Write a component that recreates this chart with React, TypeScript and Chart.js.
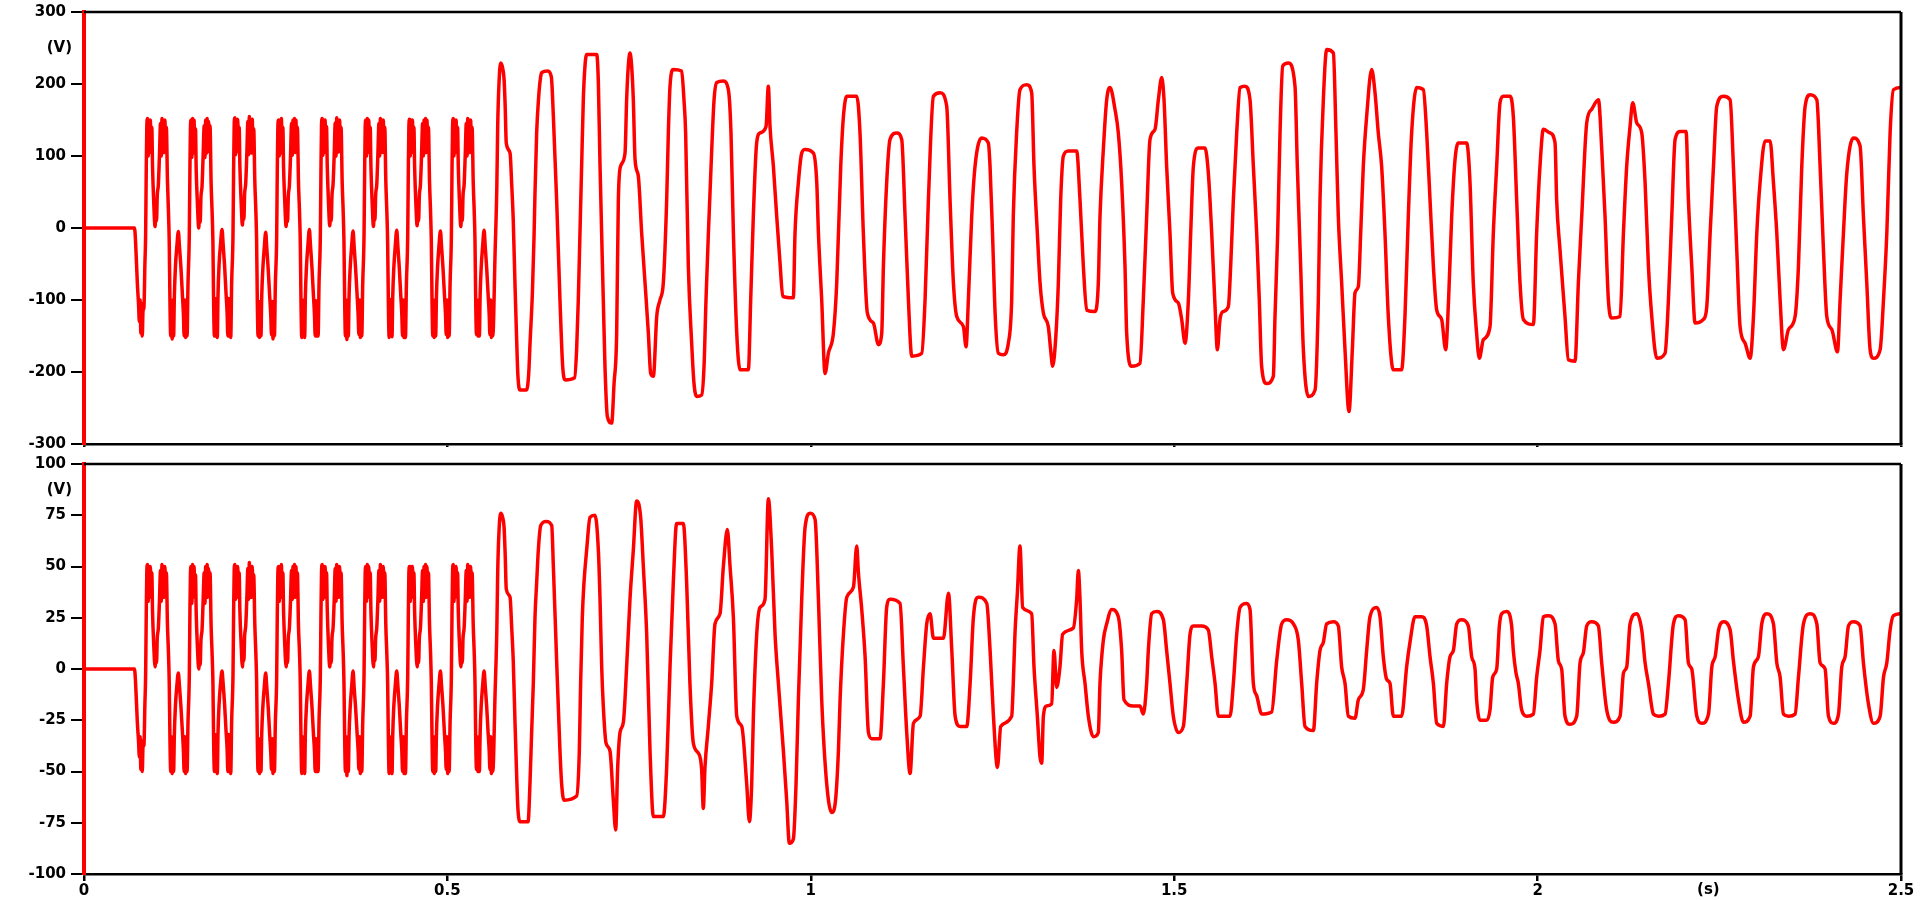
import React, { useEffect, useRef } from "react";
import { Chart, registerables } from "chart.js";
Chart.register(...registerables);

const FONT = '"DejaVu Sans", Verdana, sans-serif';

const X_TICKS = [0, 0.5, 1, 1.5, 2, 2.5];
const X_TICK_LABELS = ["0", "0.5", "1", "1.5", "2", "2.5"];
const TOP_Y_TICKS = [-300, -200, -100, 0, 100, 200, 300];
const BOT_Y_TICKS = [-100, -75, -50, -25, 0, 25, 50, 75, 100];
const TIME_UNIT = "(s)";
const VOLT_UNIT = "(V)";

// first 0.5625 s: shared sample times of both traces, in milliseconds
const segATimesMs = [
  0, 69.5, 71, 73.4, 75, 76.2, 77.2, 78.2, 79.2, 80.2, 81.2, 82.5, 83.8,
  84.8, 85.6, 86.4, 87.3, 88.3, 89.3, 90.3, 91.3, 92.3, 93.3, 94.3, 95.8, 97.8, 98.8, 99.8, 100.8, 102.3, 103.8, 105.3, 106.3, 107.3, 108.3, 109.3, 110.3, 111.3, 112.3, 113.3, 114.8, 116.3, 117.3, 118.3, 119.3, 120.3, 121.3, 122.3, 123.3, 124.3, 125.8, 127.8, 129.8, 131.3, 133.3, 135.3, 136.8, 137.8, 138.8, 139.8, 140.8, 141.8, 143.1,
  144.9, 145.7, 146.5, 147.4, 148.4, 149.4, 150.4, 151.4, 152.4, 153.4, 154.4, 155.9, 157.9, 158.9, 159.9, 160.9, 162.4, 163.9, 165.4, 166.4, 167.4, 168.4, 169.4, 170.4, 171.4, 172.4, 173.4, 174.9, 176.4, 177.4, 178.4, 179.4, 180.4, 181.4, 182.4, 183.4, 184.4, 185.9, 187.9, 189.9, 191.4, 193.4, 195.4, 196.9, 197.9, 198.9, 199.9, 200.9, 201.9, 203.2,
  205.0, 205.8, 206.6, 207.5, 208.5, 209.5, 210.5, 211.5, 212.5, 213.5, 214.5, 216.0, 218.0, 219.0, 220.0, 221.0, 222.5, 224.0, 225.5, 226.5, 227.5, 228.5, 229.5, 230.5, 231.5, 232.5, 233.5, 235.0, 236.5, 237.5, 238.5, 239.5, 240.5, 241.5, 242.5, 243.5, 244.5, 246.0, 248.0, 250.0, 251.5, 253.5, 255.5, 257.0, 258.0, 259.0, 260.0, 261.0, 262.0, 263.3,
  265.1, 265.9, 266.7, 267.6, 268.6, 269.6, 270.6, 271.6, 272.6, 273.6, 274.6, 276.1, 278.1, 279.1, 280.1, 281.1, 282.6, 284.1, 285.6, 286.6, 287.6, 288.6, 289.6, 290.6, 291.6, 292.6, 293.6, 295.1, 296.6, 297.6, 298.6, 299.6, 300.6, 301.6, 302.6, 303.6, 304.6, 306.1, 308.1, 310.1, 311.6, 313.6, 315.6, 317.1, 318.1, 319.1, 320.1, 321.1, 322.1, 323.4,
  325.2, 326.0, 326.8, 327.7, 328.7, 329.7, 330.7, 331.7, 332.7, 333.7, 334.7, 336.2, 338.2, 339.2, 340.2, 341.2, 342.7, 344.2, 345.7, 346.7, 347.7, 348.7, 349.7, 350.7, 351.7, 352.7, 353.7, 355.2, 356.7, 357.7, 358.7, 359.7, 360.7, 361.7, 362.7, 363.7, 364.7, 366.2, 368.2, 370.2, 371.7, 373.7, 375.7, 377.2, 378.2, 379.2, 380.2, 381.2, 382.2, 383.5,
  385.3, 386.1, 386.9, 387.8, 388.8, 389.8, 390.8, 391.8, 392.8, 393.8, 394.8, 396.3, 398.3, 399.3, 400.3, 401.3, 402.8, 404.3, 405.8, 406.8, 407.8, 408.8, 409.8, 410.8, 411.8, 412.8, 413.8, 415.3, 416.8, 417.8, 418.8, 419.8, 420.8, 421.8, 422.8, 423.8, 424.8, 426.3, 428.3, 430.3, 431.8, 433.8, 435.8, 437.3, 438.3, 439.3, 440.3, 441.3, 442.3, 443.6,
  445.4, 446.2, 447.0, 447.9, 448.9, 449.9, 450.9, 451.9, 452.9, 453.9, 454.9, 456.4, 458.4, 459.4, 460.4, 461.4, 462.9, 464.4, 465.9, 466.9, 467.9, 468.9, 469.9, 470.9, 471.9, 472.9, 473.9, 475.4, 476.9, 477.9, 478.9, 479.9, 480.9, 481.9, 482.9, 483.9, 484.9, 486.4, 488.4, 490.4, 491.9, 493.9, 495.9, 497.4, 498.4, 499.4, 500.4, 501.4, 502.4, 503.7,
  505.5, 506.3, 507.1, 508.0, 509.0, 510.0, 511.0, 512.0, 513.0, 514.0, 515.0, 516.5, 518.5, 519.5, 520.5, 521.5, 523.0, 524.5, 526.0, 527.0, 528.0, 529.0, 530.0, 531.0, 532.0, 533.0, 534.0, 535.5, 537.0, 538.0, 539.0, 540.0, 541.0, 542.0, 543.0, 544.0, 545.0, 546.5, 548.5, 550.5, 552.0, 554.0, 556.0, 557.5, 558.5, 559.5, 560.5, 561.5, 562.5,
];

const topSegAVolts = [
  0, 0, -20, -77, -105, -130, -100, -146, -105, -150, -115, -110, -50,
  -10, 76, 140, 152, 100, 150, 105, 150, 110, 140, 85, 40, 2, 22, 10, 45, 60, 100, 145, 100, 152, 105, 150, 105, 150, 110, 140, 67, 20, -21, -105, -150, -100, -154, -105, -150, -95, -54, -25, -5, -25, -54, -91, -120, -150, -100, -152, -105, -150, -77,
  -8, 78, 142, 150, 98, 152, 104, 150, 108, 138, 80, 38, 0, 20, 8, 43, 58, 100, 142, 98, 150, 104, 152, 106, 148, 108, 142, 62, 18, -22, -108, -150, -98, -150, -104, -152, -92, -50, -22, -2, -22, -52, -90, -118, -150, -98, -150, -104, -152, -75,
  -10, 75, 140, 153, 102, 150, 106, 151, 112, 140, 85, 42, 4, 24, 12, 47, 62, 102, 148, 102, 155, 106, 150, 104, 151, 110, 138, 66, 22, -18, -104, -150, -102, -152, -106, -150, -96, -58, -28, -6, -28, -58, -95, -122, -148, -102, -154, -106, -150, -78,
  -12, 76, 138, 150, 100, 150, 104, 152, 110, 140, 84, 40, 2, 21, 9, 44, 59, 98, 145, 101, 150, 106, 152, 105, 150, 108, 140, 64, 20, -20, -106, -152, -100, -150, -104, -152, -94, -54, -24, -2, -24, -54, -92, -120, -150, -101, -150, -105, -150, -76,
  -10, 78, 142, 152, 101, 150, 105, 150, 109, 141, 86, 40, 3, 22, 10, 45, 61, 100, 146, 100, 153, 105, 150, 106, 150, 110, 140, 65, 20, -20, -105, -150, -100, -155, -105, -150, -95, -56, -26, -4, -26, -56, -92, -121, -148, -100, -152, -104, -150, -77,
  -10, 75, 140, 150, 100, 152, 105, 150, 110, 140, 85, 40, 2, 23, 11, 46, 60, 100, 145, 100, 152, 106, 150, 105, 150, 110, 140, 64, 19, -21, -106, -152, -99, -150, -105, -151, -95, -55, -25, -3, -25, -55, -93, -120, -150, -100, -152, -106, -152, -78,
  -10, 76, 141, 151, 100, 150, 105, 150, 110, 140, 85, 40, 3, 22, 10, 45, 60, 100, 145, 100, 150, 105, 152, 105, 150, 110, 140, 65, 20, -20, -105, -150, -100, -152, -105, -150, -95, -55, -25, -4, -25, -55, -92, -120, -148, -100, -152, -105, -150, -77,
  -10, 77, 140, 152, 100, 150, 105, 150, 110, 140, 85, 40, 2, 22, 10, 45, 60, 100, 145, 100, 152, 105, 150, 105, 150, 110, 140, 65, 20, -20, -105, -148, -100, -150, -105, -150, -95, -55, -25, -3, -25, -55, -92, -120, -148, -100, -152, -105, -150,
];

const botSegAVolts = [
  0, 0, -7, -26, -35, -43, -33, -49, -35, -50, -38, -37, -17,
  -3, 25, 47, 51, 33, 50, 35, 50, 37, 47, 28, 13, 1, 7, 3, 15, 20, 33, 48, 33, 51, 35, 50, 35, 50, 37, 47, 22, 7, -7, -35, -50, -33, -51, -35, -50, -32, -18, -8, -2, -8, -18, -30, -40, -50, -33, -51, -35, -50, -26,
  -3, 26, 47, 50, 32, 51, 35, 50, 36, 46, 27, 12, 0, 6, 2, 14, 19, 33, 47, 32, 50, 35, 51, 35, 49, 36, 47, 21, 6, -7, -36, -50, -32, -50, -35, -51, -31, -17, -7, -1, -7, -17, -30, -39, -50, -32, -50, -35, -51, -25,
  -3, 25, 47, 51, 34, 50, 35, 50, 37, 47, 28, 14, 1, 8, 4, 16, 21, 34, 49, 34, 52, 35, 50, 35, 50, 37, 46, 22, 7, -6, -35, -50, -34, -51, -35, -50, -32, -19, -9, -2, -9, -19, -32, -41, -49, -34, -51, -35, -50, -26,
  -4, 25, 46, 50, 33, 50, 35, 51, 37, 47, 28, 13, 1, 7, 3, 15, 20, 33, 48, 34, 50, 35, 51, 35, 50, 36, 47, 21, 7, -7, -35, -51, -33, -50, -35, -51, -31, -18, -8, -1, -8, -18, -31, -40, -50, -34, -50, -35, -50, -25,
  -3, 26, 47, 51, 34, 50, 35, 50, 36, 47, 29, 13, 1, 7, 3, 15, 20, 33, 49, 33, 51, 35, 50, 35, 50, 37, 47, 22, 7, -7, -35, -50, -33, -52, -35, -50, -32, -19, -9, -1, -9, -19, -31, -40, -49, -33, -51, -35, -50, -26,
  -3, 25, 47, 50, 33, 51, 35, 50, 37, 47, 28, 13, 1, 8, 4, 15, 20, 33, 48, 33, 51, 35, 50, 35, 50, 37, 47, 21, 6, -7, -35, -51, -33, -50, -35, -51, -32, -18, -8, -1, -8, -18, -31, -40, -50, -33, -51, -35, -51, -26,
  -3, 25, 47, 50, 33, 50, 35, 50, 37, 47, 28, 13, 1, 7, 3, 15, 20, 33, 48, 33, 50, 35, 51, 35, 50, 37, 47, 22, 7, -7, -35, -50, -33, -51, -35, -50, -32, -18, -8, -1, -8, -18, -31, -40, -49, -33, -51, -35, -50, -26,
  -3, 26, 47, 51, 33, 50, 35, 50, 37, 47, 28, 13, 1, 7, 3, 15, 20, 33, 48, 33, 51, 35, 50, 35, 50, 37, 47, 22, 7, -7, -35, -49, -33, -50, -35, -50, -32, -18, -8, -1, -8, -18, -31, -40, -49, -33, -51, -35, -50,
];

// after 0.565 s: [time s, volts]
const topTail: [number, number][] = [
  [0.5656,-35],[0.5680,57],[0.5692,141],[0.5710,201],[0.5733,229],[0.5760,222],[0.5780,206],[0.5795,169],[0.5810,118],[0.5862,104],[0.5885,60],[0.5906,11],[0.5931,-82],[0.5953,-156],[0.5970,-205],[0.6000,-225],[0.6090,-225],[0.6120,-200],[0.6137,-160],[0.6169,-91],[0.6192,-12],[0.6205,48],[0.6228,132],[0.6255,181],[0.6283,210],[0.6300,216],[0.6380,218],[0.6430,210],[0.6458,155],[0.6503,39],[0.6549,-100],[0.6586,-192],[0.6620,-211],[0.6750,-208],[0.6778,-169],[0.6801,-100],[0.6824,-7],[0.6847,86],[0.6870,178],[0.6893,225],[0.6917,241],[0.7054,241],[0.7077,202],[0.7100,86],[0.7145,-100],[0.7168,-192],[0.7201,-262],[0.7260,-271],[0.7293,-216],[0.7329,-146],[0.7352,39],[0.7384,86],[0.7444,104],[0.7466,178],[0.7489,225],[0.7512,243],[0.7535,225],[0.7558,178],[0.7582,95],[0.7627,72],[0.7673,-7],[0.7719,-76],[0.7765,-146],[0.7797,-202],[0.7834,-206],[0.7880,-123],[0.7925,-100],[0.7971,-76],[0.8017,39],[0.8040,132],[0.8063,197],[0.8108,220],[0.8223,218],[0.8255,178],[0.8278,132],[0.8315,-53],[0.8361,-160],[0.8393,-216],[0.8430,-234],[0.8498,-232],[0.8531,-192],[0.8558,-100],[0.8591,-7],[0.8637,109],[0.8669,178],[0.8706,202],[0.8798,204],[0.8866,192],[0.8902,132],[0.8935,-7],[0.8981,-146],[0.9026,-197],[0.9141,-197],[0.9173,-100],[0.9209,16],[0.9255,118],[0.9301,132],[0.9384,141],[0.9416,197],[0.9439,141],[0.9485,86],[0.9531,16],[0.9577,-49],[0.9614,-95],[0.9760,-97],[0.9783,-7],[0.9829,63],[0.9875,104],[0.9921,109],[1.0036,104],[1.0082,63],[1.0105,-7],[1.0150,-100],[1.0196,-202],[1.0242,-174],[1.0311,-146],[1.0357,-76],[1.0412,86],[1.0449,155],[1.0495,183],[1.0632,183],[1.0677,132],[1.0723,-7],[1.0778,-118],[1.0861,-132],[1.0930,-162],[1.0976,-146],[1.0999,-53],[1.1044,63],[1.1090,123],[1.1182,132],[1.1251,123],[1.1297,16],[1.1343,-100],[1.1389,-178],[1.1527,-174],[1.1572,-100],[1.1618,39],[1.1687,183],[1.1779,188],[1.1870,169],[1.1916,39],[1.1962,-76],[1.2008,-123],[1.2100,-137],[1.2136,-165],[1.2168,-100],[1.2214,16],[1.2260,86],[1.2351,125],[1.2443,118],[1.2466,86],[1.2500,-7],[1.2538,-123],[1.2581,-174],[1.2649,-176],[1.2718,-160],[1.2764,-100],[1.2786,16],[1.2832,132],[1.2878,192],[1.2970,199],[1.3039,188],[1.3071,86],[1.3117,-7],[1.3154,-76],[1.3200,-118],[1.3268,-137],[1.3300,-169],[1.3328,-192],[1.3374,-146],[1.3406,-76],[1.3438,39],[1.3475,100],[1.3544,107],[1.3658,107],[1.3704,39],[1.3750,-53],[1.3796,-114],[1.3910,-116],[1.3956,-76],[1.3979,16],[1.4025,109],[1.4071,178],[1.4117,195],[1.4185,165],[1.4231,132],[1.4277,63],[1.4323,-53],[1.4346,-146],[1.4415,-192],[1.4529,-188],[1.4575,-100],[1.4621,16],[1.4667,123],[1.4736,137],[1.4782,178],[1.4828,209],[1.4860,178],[1.4896,86],[1.4942,-7],[1.4979,-90],[1.5057,-104],[1.5103,-127],[1.5149,-160],[1.5195,-100],[1.5227,-7],[1.5264,86],[1.5332,111],[1.5424,111],[1.5470,76],[1.5516,-7],[1.5562,-109],[1.5594,-169],[1.5630,-127],[1.5676,-116],[1.5745,-109],[1.5777,-53],[1.5814,39],[1.5860,132],[1.5906,195],[1.5974,197],[1.6043,178],[1.6089,86],[1.6135,-7],[1.6171,-100],[1.6203,-192],[1.6272,-216],[1.6364,-206],[1.6387,-123],[1.6424,-7],[1.6456,132],[1.6493,225],[1.6571,229],[1.6662,197],[1.6694,86],[1.6740,-53],[1.6777,-169],[1.6846,-234],[1.6938,-225],[1.6983,-100],[1.7006,39],[1.7052,178],[1.7098,248],[1.7190,243],[1.7226,132],[1.7258,16],[1.7304,-76],[1.7350,-169],[1.7405,-255],[1.7451,-169],[1.7488,-90],[1.7534,-81],[1.7566,-7],[1.7602,86],[1.7648,155],[1.7717,220],[1.7763,188],[1.7808,132],[1.7854,86],[1.7900,-7],[1.7946,-123],[1.8015,-197],[1.8129,-197],[1.8175,-123],[1.8221,16],[1.8267,132],[1.8336,195],[1.8428,192],[1.8474,132],[1.8520,39],[1.8566,-53],[1.8612,-114],[1.8680,-127],[1.8735,-169],[1.8775,-100],[1.8818,16],[1.8864,95],[1.8909,118],[1.9024,118],[1.9070,63],[1.9115,-76],[1.9161,-146],[1.9198,-181],[1.9254,-155],[1.9345,-137],[1.9391,-7],[1.9437,86],[1.9483,174],[1.9529,183],[1.9620,183],[1.9666,155],[1.9712,39],[1.9758,-76],[1.9804,-127],[1.9942,-134],[1.9987,-7],[2.0033,86],[2.0079,137],[2.0171,132],[2.0240,118],[2.0262,39],[2.0308,-30],[2.0377,-123],[2.0423,-183],[2.0515,-185],[2.0561,-76],[2.0607,16],[2.0676,146],[2.0745,165],[2.0837,178],[2.0883,109],[2.0928,16],[2.0974,-100],[2.1020,-125],[2.1135,-123],[2.1181,-7],[2.1226,86],[2.1272,141],[2.1309,174],[2.1364,146],[2.1433,132],[2.1479,63],[2.1525,-53],[2.1571,-123],[2.1640,-181],[2.1754,-174],[2.1800,-100],[2.1846,16],[2.1892,123],[2.1961,134],[2.2043,134],[2.2075,39],[2.2121,-53],[2.2167,-132],[2.2282,-127],[2.2328,-109],[2.2374,-7],[2.2420,86],[2.2465,169],[2.2557,183],[2.2649,178],[2.2694,86],[2.2740,-30],[2.2786,-137],[2.2855,-160],[2.2924,-181],[2.2970,-123],[2.3016,-7],[2.3061,63],[2.3130,121],[2.3199,121],[2.3245,63],[2.3291,-7],[2.3337,-100],[2.3383,-169],[2.3452,-141],[2.3543,-123],[2.3589,-53],[2.3635,86],[2.3681,169],[2.3750,185],[2.3842,178],[2.3887,86],[2.3933,-30],[2.3979,-123],[2.4048,-141],[2.4126,-172],[2.4162,-100],[2.4208,-7],[2.4254,76],[2.4346,125],[2.4437,114],[2.4483,16],[2.4529,-76],[2.4575,-169],[2.4621,-181],[2.4713,-169],[2.4759,-100],[2.4805,-7],[2.4850,132],[2.4896,192],[2.5000,195],
];

const botTail: [number, number][] = [
  [0.5656,-12],[0.5680,19],[0.5692,47],[0.5710,67],[0.5733,76],[0.5760,74],[0.5780,69],[0.5795,56],[0.5810,39],[0.5862,35],[0.5885,20],[0.5906,4],[0.5931,-27],[0.5953,-52],[0.5970,-68],[0.6000,-74.5],[0.6110,-74.5],[0.6136,-56],[0.6159,-31],[0.6182,-7],[0.6205,25],[0.6228,42],[0.6251,58],[0.6284,70],[0.6360,72],[0.6435,70],[0.6458,50],[0.6503,4],[0.6549,-40],[0.6572,-56],[0.6604,-64],[0.6778,-62],[0.6815,-40],[0.6833,-7],[0.6856,25],[0.6879,42],[0.6916,58],[0.6962,74],[0.7031,75],[0.7077,58],[0.7100,34],[0.7123,1],[0.7145,-18],[0.7182,-36],[0.7237,-40],[0.7283,-64],[0.7315,-78.5],[0.7343,-48],[0.7375,-31],[0.7421,-26],[0.7466,1],[0.7512,34],[0.7558,58],[0.7604,82],[0.7659,74],[0.7696,50],[0.7742,17],[0.7788,-40],[0.7834,-72],[0.7971,-72],[0.8017,-48],[0.8063,1],[0.8108,42],[0.8154,71],[0.8246,71],[0.8292,42],[0.8337,-7],[0.8383,-36],[0.8452,-41],[0.8498,-49],[0.8521,-68],[0.8544,-48],[0.8590,-28],[0.8636,-7],[0.8682,22],[0.8751,27],[0.8797,50],[0.8852,68],[0.8889,50],[0.8935,25],[0.8981,-23],[0.9050,-28],[0.9118,-56],[0.9155,-74.5],[0.9187,-56],[0.9210,-23],[0.9256,17],[0.9301,30],[0.9370,34],[0.9416,83],[0.9462,58],[0.9508,17],[0.9554,-7],[0.9623,-40],[0.9668,-64],[0.9705,-85],[0.9760,-83],[0.9797,-56],[0.9829,-15],[0.9875,34],[0.9921,69],[0.9990,76],[1.0059,73],[1.0105,34],[1.0150,-15],[1.0219,-56],[1.0288,-70],[1.0334,-66],[1.0380,-40],[1.0403,-15],[1.0449,17],[1.0495,35],[1.0587,40],[1.0632,60],[1.0655,47],[1.0701,29],[1.0747,6],[1.0793,-31],[1.0838,-34],[1.0953,-34],[1.0999,-7],[1.1044,30],[1.1090,34],[1.1228,32],[1.1274,1],[1.1320,-31],[1.1366,-51],[1.1412,-26.5],[1.1504,-23],[1.1550,1],[1.1595,22],[1.1641,27],[1.1687,15],[1.1825,15],[1.1894,37],[1.1940,9],[1.1986,-23],[1.2054,-28],[1.2146,-28],[1.2192,-7],[1.2238,25.5],[1.2307,35],[1.2421,32],[1.2467,9],[1.2513,-23],[1.2568,-48],[1.2613,-28],[1.2764,-23],[1.2786,-7],[1.2809,17],[1.2842,37],[1.2878,60],[1.2915,30],[1.3039,27],[1.3071,1],[1.3117,-23],[1.3154,-43],[1.3177,-46],[1.3200,-23],[1.3245,-18],[1.3314,-17],[1.3346,9],[1.3383,-9],[1.3428,1],[1.3465,17],[1.3612,20],[1.3658,34],[1.3681,48],[1.3704,34],[1.3727,9],[1.3773,-7],[1.3819,-23],[1.3887,-33],[1.3956,-31],[1.3979,-7],[1.4025,14],[1.4071,22],[1.4140,29],[1.4231,25.5],[1.4277,9],[1.4309,-15],[1.4437,-18],[1.4529,-18],[1.4575,-22],[1.4621,-7],[1.4644,9],[1.4690,27],[1.4759,28],[1.4851,24],[1.4896,9],[1.4942,-7],[1.4988,-23],[1.5057,-31],[1.5126,-28],[1.5172,-7],[1.5218,17],[1.5264,21],[1.5378,21],[1.5470,19],[1.5516,6],[1.5562,-7],[1.5608,-23],[1.5768,-23],[1.5814,-7],[1.5860,17],[1.5906,30],[1.5997,32],[1.6043,29],[1.6089,-7],[1.6135,-13],[1.6204,-22],[1.6341,-21],[1.6410,4],[1.6479,22],[1.6548,24],[1.6640,22],[1.6708,14],[1.6754,-7],[1.6800,-28],[1.6915,-30],[1.6960,-7],[1.7006,9],[1.7052,13],[1.7098,22],[1.7190,23],[1.7258,21],[1.7304,1],[1.7350,-7],[1.7396,-23],[1.7488,-24],[1.7534,-15],[1.7602,-10],[1.7648,9],[1.7694,25.5],[1.7786,30],[1.7832,25.5],[1.7877,6],[1.7923,-5],[1.7969,-7],[1.8015,-23],[1.8129,-23],[1.8198,1],[1.8244,13],[1.8313,25.5],[1.8405,25.5],[1.8474,21],[1.8520,6],[1.8566,-7],[1.8612,-26.5],[1.8704,-28],[1.8749,-7],[1.8795,6],[1.8841,9],[1.8887,22],[1.8955,24],[1.9047,21],[1.9093,6],[1.9139,0],[1.9161,-15],[1.9207,-25],[1.9299,-25],[1.9345,-20],[1.9382,-4],[1.9437,0],[1.9474,21],[1.9506,27],[1.9575,28],[1.9643,21],[1.9666,9],[1.9703,-2],[1.9735,-7],[1.9781,-20],[1.9850,-23],[1.9942,-22],[1.9987,-4],[2.0033,9],[2.0079,25.5],[2.0148,26],[2.0240,22],[2.0286,4],[2.0331,0],[2.0377,-23],[2.0446,-27],[2.0538,-23],[2.0584,3],[2.0630,8],[2.0676,21],[2.0745,23],[2.0836,21],[2.0882,3],[2.0951,-20],[2.1043,-26],[2.1135,-23],[2.1181,-2],[2.1226,1],[2.1272,22],[2.1364,27],[2.1433,19],[2.1479,3],[2.1525,-7],[2.1594,-22],[2.1663,-23],[2.1754,-22],[2.1800,-7],[2.1869,22],[2.1938,26],[2.2030,24],[2.2075,3],[2.2121,0],[2.2190,-23],[2.2259,-26.5],[2.2351,-22],[2.2397,1],[2.2443,6],[2.2489,19],[2.2557,23],[2.2649,19],[2.2694,4],[2.2763,-15],[2.2832,-26],[2.2924,-23],[2.2970,1],[2.3038,6],[2.3084,22],[2.3153,27],[2.3245,22],[2.3291,3],[2.3337,-4],[2.3383,-22],[2.3452,-23],[2.3543,-22],[2.3589,-4],[2.3658,22],[2.3750,27],[2.3842,22],[2.3887,3],[2.3956,0],[2.4002,-23],[2.4071,-26.5],[2.4140,-22],[2.4185,1],[2.4231,6],[2.4277,21],[2.4346,23],[2.4437,21],[2.4483,3],[2.4552,-17],[2.4621,-26.5],[2.4713,-23],[2.4759,-4],[2.4805,3],[2.4850,19],[2.4896,26],[2.5000,27],
];

function buildPoints(timesMs: number[], volts: number[], tail: [number, number][]) {
  const n = Math.min(timesMs.length, volts.length);
  const pts: { x: number; y: number }[] = [];
  for (let i = 0; i < n; i++) pts.push({ x: timesMs[i] / 1000, y: volts[i] });
  for (const [t, v] of tail) pts.push({ x: t, y: v });
  return pts;
}

const LABEL_FONT = { family: FONT, size: 15, weight: "bold" as const };

function zeroPadding(s: any) {
  s.paddingTop = 0;
  s.paddingBottom = 0;
  s.paddingLeft = 0;
  s.paddingRight = 0;
}

const framePlugin = {
  id: "frame",
  afterDatasetsDraw(chart: any) {
    const { ctx, chartArea: a } = chart;
    ctx.save();
    ctx.strokeStyle = "#000";
    ctx.lineWidth = 2.5;
    ctx.beginPath();
    ctx.moveTo(a.left, a.top);
    ctx.lineTo(a.right, a.top);
    ctx.stroke();
    ctx.lineWidth = 3;
    ctx.beginPath();
    ctx.moveTo(a.right, a.top);
    ctx.lineTo(a.right, a.bottom);
    ctx.stroke();
    ctx.restore();
  },
};

const unitPlugin = {
  id: "units",
  afterDraw(chart: any, _args: any, opts: any) {
    const ctx = chart.ctx;
    ctx.save();
    ctx.fillStyle = "#000";
    ctx.font = `bold ${LABEL_FONT.size}px ${FONT}`;
    if (opts && opts.yText) {
      const y = chart.scales.y.getPixelForValue(opts.yValue);
      ctx.textAlign = "right";
      ctx.textBaseline = "middle";
      ctx.fillText(opts.yText, chart.chartArea.left - 12, y);
    }
    if (opts && opts.xText) {
      const x = chart.scales.x.getPixelForValue(opts.xValue);
      ctx.textAlign = "center";
      ctx.textBaseline = "top";
      ctx.fillText(opts.xText, x, chart.scales.x.top + 9);
    }
    ctx.restore();
  },
};

function makeConfig(opts: {
  points: { x: number; y: number }[];
  yMin: number;
  yMax: number;
  yTicks: number[];
  showX: boolean;
  padTop: number;
  xHeight: number;
  yUnitValue: number;
}) {
  return {
    type: "line" as const,
    data: {
      datasets: [
        {
          data: opts.points,
          borderColor: "#ff0000",
          borderWidth: 3.5,
          pointRadius: 0,
          fill: false,
          cubicInterpolationMode: "monotone" as const,
        },
      ],
    },
    plugins: [framePlugin, unitPlugin],
    options: {
      animation: false as const,
      responsive: false,
      events: [],
      layout: { padding: { top: opts.padTop, left: 0, right: 30, bottom: 0 }, autoPadding: false },
      plugins: {
        legend: { display: false },
        tooltip: { enabled: false },
        units: {
          yText: VOLT_UNIT,
          yValue: opts.yUnitValue,
          xText: opts.showX ? TIME_UNIT : "",
          xValue: 2.235,
        },
      },
      scales: {
        x: {
          type: "linear" as const,
          min: 0,
          max: 2.5,
          afterBuildTicks: (s: any) => {
            s.ticks = X_TICKS.map((v) => ({ value: v }));
          },
          afterFit: (s: any) => {
            s.height = opts.xHeight;
            zeroPadding(s);
          },
          ticks: {
            display: opts.showX,
            color: "#000",
            font: LABEL_FONT,
            padding: 1,
            maxRotation: 0,
            autoSkip: false,
            callback: (_v: any, i: number) => X_TICK_LABELS[i] ?? "",
          },
          grid: {
            drawOnChartArea: false,
            drawTicks: true,
            tickLength: opts.showX ? 7 : 3,
            color: "#000",
            lineWidth: 2.5,
          },
          border: { display: true, color: "#000", width: 2.5 },
        },
        y: {
          type: "linear" as const,
          min: opts.yMin,
          max: opts.yMax,
          afterBuildTicks: (s: any) => {
            s.ticks = opts.yTicks.map((v) => ({ value: v }));
          },
          afterFit: (s: any) => {
            s.width = 84;
            zeroPadding(s);
          },
          ticks: {
            color: "#000",
            font: LABEL_FONT,
            padding: 5,
            autoSkip: false,
          },
          grid: {
            drawOnChartArea: false,
            drawTicks: true,
            tickLength: 13,
            color: "#000",
            lineWidth: 2,
          },
          border: { display: true, color: "#ff0000", width: 4 },
        },
      },
    },
  };
}

function Panel(props: { width: number; height: number; top: number; config: any }) {
  const ref = useRef<HTMLCanvasElement | null>(null);
  useEffect(() => {
    if (!ref.current) return;
    const chart = new Chart(ref.current, props.config);
    return () => chart.destroy();
  }, []);
  return (
    <canvas
      ref={ref}
      width={props.width}
      height={props.height}
      style={{ position: "absolute", left: 0, top: props.top, display: "block" }}
    />
  );
}

export default function App() {
  const topCfg = makeConfig({
    points: buildPoints(segATimesMs, topSegAVolts, topTail),
    yMin: -300,
    yMax: 300,
    yTicks: TOP_Y_TICKS,
    showX: false,
    padTop: 12,
    xHeight: 4,
    yUnitValue: 250,
  });
  const botCfg = makeConfig({
    points: buildPoints(segATimesMs, botSegAVolts, botTail),
    yMin: -100,
    yMax: 100,
    yTicks: BOT_Y_TICKS,
    showX: true,
    padTop: 16,
    xHeight: 26,
    yUnitValue: 87.5,
  });
  return (
    <div style={{ position: "absolute", left: 0, top: 0, width: 1931, height: 900, background: "#fff" }}>
      <Panel width={1931} height={448} top={0} config={topCfg} />
      <Panel width={1931} height={452} top={448} config={botCfg} />
    </div>
  );
}
